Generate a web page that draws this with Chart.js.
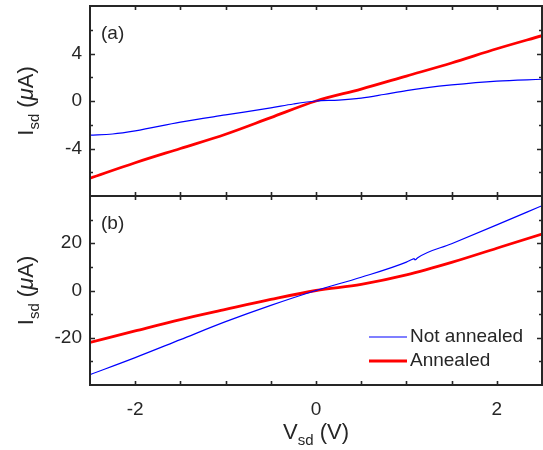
<!DOCTYPE html>
<html>
<head>
<meta charset="utf-8">
<script src="https://cdn.jsdelivr.net/npm/chart.js@4.4.1/dist/chart.umd.min.js"></script>
<style>
  html, body { margin: 0; padding: 0; background: #fff; }
  #wrap { position: relative; width: 543px; height: 450px; }
  canvas { position: absolute; left: 0; top: 0; }
</style>
</head>
<body>
<div id="wrap">
  <canvas id="chart-a" width="543" height="450"></canvas>
  <canvas id="chart-b" width="543" height="450"></canvas>
</div>
<script>
// panel (a)
const voltsA_blue = [-2.5, -2.25, -2.0, -1.5, -1.0, -0.5, -0.25, 0, 0.25, 0.5, 0.75, 1.0, 1.5, 2.0, 2.5];
const currentA_blue = [-2.87, -2.78, -2.52, -1.78, -1.17, -0.58, -0.25, 0, 0.08, 0.25, 0.55, 0.88, 1.35, 1.68, 1.83];
const voltsA_red = [-2.5, -2.0, -1.5, -1.0, -0.5, 0, 0.5, 1.0, 1.5, 2.0, 2.5];
const currentA_red = [-6.5, -5.2, -4.0, -2.8, -1.4, 0, 1.0, 2.1, 3.2, 4.4, 5.5];

// panel (b)
const voltsB_blue = [-2.5, -2.0, -1.5, -1.0, -0.5, 0, 0.5, 1.0, 1.06, 1.085, 1.095, 1.11, 1.125, 1.5, 2.0, 2.5];
const currentB_blue = [-35.6, -28.4, -20.8, -13.2, -6.3, 0, 5.6, 12.0, 13.1, 13.45, 13.0, 13.3, 13.85, 19.8, 27.8, 35.9];
const voltsB_red = [-2.5, -2.0, -1.5, -1.0, -0.5, 0, 0.5, 1.0, 1.5, 2.0, 2.5];
const currentB_red = [-22.0, -17.1, -12.3, -8.0, -3.8, 0, 2.6, 6.6, 11.9, 17.9, 23.9];

const xTickLabels = [-2, 0, 2];
const xTickMarks = [-2, -1.5, -1, -0.5, 0, 0.5, 1, 1.5, 2];
const yTickLabelsA = [-4, 0, 4];
const yTickMarksA = [-6, -4, -2, 0, 2, 4, 6];
const yTickLabelsB = [-20, 0, 20];
const yTickMarksB = [-30, -20, -10, 0, 10, 20, 30];

const seriesNames = ["Not annealed", "Annealed"];

const INK = "#262626";
const FONT = '"Liberation Sans", Arial, Helvetica, sans-serif';

const pairs = (xs, ys) => xs.map((x, i) => ({ x, y: ys[i] }));

const lineSet = (label, data, color, width) => ({
  label,
  data,
  borderColor: color,
  backgroundColor: color,
  borderWidth: width,
  pointRadius: 0,
  cubicInterpolationMode: "monotone",
  fill: false,
});

// box around the plot area plus inward tick marks
const framePlugin = {
  id: "frame",
  afterDatasetsDraw(chart, args, opts) {
    const { ctx, chartArea: a, scales } = chart;
    ctx.save();
    ctx.strokeStyle = INK;
    ctx.lineWidth = 1.6;
    ctx.beginPath();
    opts.xMarks.forEach((v) => {
      const px = Math.round(scales.x.getPixelForValue(v)) + 0.5;
      ctx.moveTo(px, a.top);
      ctx.lineTo(px, a.top + 4);
      ctx.moveTo(px, a.bottom);
      ctx.lineTo(px, a.bottom - 4);
    });
    opts.yMarks.forEach((v) => {
      const py = Math.round(scales.y.getPixelForValue(v)) + 0.5;
      const len = opts.yLabels.includes(v) ? 5 : 3;
      ctx.moveTo(a.left, py);
      ctx.lineTo(a.left + len, py);
      ctx.moveTo(a.right, py);
      ctx.lineTo(a.right - len, py);
    });
    ctx.stroke();
    ctx.lineWidth = 2;
    ctx.strokeRect(a.left, a.top, a.right - a.left, a.bottom - a.top);
    ctx.restore();
  },
};

// text pieces with subscripts, drawn left to right around a centre
const drawPieces = (ctx, pieces, cx, baseline) => {
  let total = 0;
  pieces.forEach((p) => {
    ctx.font = p.font;
    total += ctx.measureText(p.text).width;
  });
  let x = cx - total / 2;
  pieces.forEach((p) => {
    ctx.font = p.font;
    ctx.fillText(p.text, x, baseline + (p.dy || 0));
    x += ctx.measureText(p.text).width;
  });
};

const textPlugin = {
  id: "texts",
  afterDraw(chart, args, opts) {
    const { ctx, chartArea: a } = chart;
    ctx.save();
    ctx.fillStyle = INK;
    ctx.textAlign = "left";
    ctx.textBaseline = "alphabetic";

    // y title
    ctx.save();
    ctx.translate(25, (a.top + a.bottom) / 2);
    ctx.rotate(-Math.PI / 2);
    drawPieces(ctx, [
      { text: "I", font: `22px ${FONT}` },
      { text: "sd", font: `15px ${FONT}`, dy: 6 },
      { text: " (", font: `22px ${FONT}` },
      { text: "\u03bc", font: `italic 22px ${FONT}` },
      { text: "A)", font: `22px ${FONT}` },
    ], 0, 8);
    ctx.restore();

    // panel tag
    ctx.font = `19px ${FONT}`;
    ctx.textBaseline = "middle";
    ctx.fillText(opts.tag, 101, a.top + 28);

    if (opts.xTitle) {
      ctx.textBaseline = "alphabetic";
      drawPieces(ctx, [
        { text: "V", font: `22px ${FONT}` },
        { text: "sd", font: `15px ${FONT}`, dy: 6 },
        { text: " (V)", font: `22px ${FONT}` },
      ], (a.left + a.right) / 2, 439);
    }

    if (opts.legend) {
      const items = chart.data.datasets;
      ctx.font = `19px ${FONT}`;
      ctx.textBaseline = "middle";
      items.forEach((ds, i) => {
        const ly = 337 + i * 24;
        ctx.strokeStyle = ds.borderColor;
        ctx.lineWidth = ds.borderWidth;
        ctx.beginPath();
        ctx.moveTo(369, ly);
        ctx.lineTo(407, ly);
        ctx.stroke();
        ctx.fillStyle = INK;
        ctx.fillText(ds.label, 410, ly);
      });
    }
    ctx.restore();
  },
};

const tickFont = { family: FONT, size: 19 };

const buildPanel = (canvasId, cfg) =>
  new Chart(document.getElementById(canvasId), {
    type: "line",
    data: {
      datasets: [
        lineSet(seriesNames[0], cfg.blue, "#0000ff", 1.2),
        lineSet(seriesNames[1], cfg.red, "#ff0000", 2.8),
      ],
    },
    plugins: [framePlugin, textPlugin],
    options: {
      responsive: false,
      animation: false,
      events: [],
      layout: { padding: cfg.padding },
      plugins: {
        legend: { display: false },
        tooltip: { enabled: false },
        frame: { xMarks: xTickMarks, yMarks: cfg.yMarks, yLabels: cfg.yLabels },
        texts: { tag: cfg.tag, xTitle: cfg.showX, legend: cfg.showX },
      },
      scales: {
        x: {
          type: "linear",
          min: -2.5,
          max: 2.5,
          grid: { display: false, drawTicks: false },
          border: { display: false },
          ticks: { display: cfg.showX, color: INK, font: tickFont, padding: 13, maxRotation: 0 },
          afterBuildTicks: (s) => { s.ticks = xTickLabels.map((value) => ({ value })); },
          afterFit: (s) => {
            s.height = cfg.showX ? 65 : 0;
            s.paddingLeft = 0;
            s.paddingRight = 0;
          },
        },
        y: {
          type: "linear",
          min: cfg.yMin,
          max: cfg.yMax,
          grid: { display: false, drawTicks: false },
          border: { display: false },
          ticks: { color: INK, font: tickFont, padding: 8 },
          afterBuildTicks: (s) => { s.ticks = cfg.yLabels.map((value) => ({ value })); },
          afterFit: (s) => {
            s.width = 90;
            s.paddingTop = 0;
            s.paddingBottom = 0;
          },
        },
      },
    },
  });

buildPanel("chart-a", {
  blue: pairs(voltsA_blue, currentA_blue),
  red: pairs(voltsA_red, currentA_red),
  yMin: -8,
  yMax: 8,
  yLabels: yTickLabelsA,
  yMarks: yTickMarksA,
  tag: "(a)",
  showX: false,
  padding: { left: 0, right: 1, top: 6, bottom: 254 },
});

buildPanel("chart-b", {
  blue: pairs(voltsB_blue, currentB_blue),
  red: pairs(voltsB_red, currentB_red),
  yMin: -40,
  yMax: 40,
  yLabels: yTickLabelsB,
  yMarks: yTickMarksB,
  tag: "(b)",
  showX: true,
  padding: { left: 0, right: 1, top: 196, bottom: 0 },
});
</script>
</body>
</html>
